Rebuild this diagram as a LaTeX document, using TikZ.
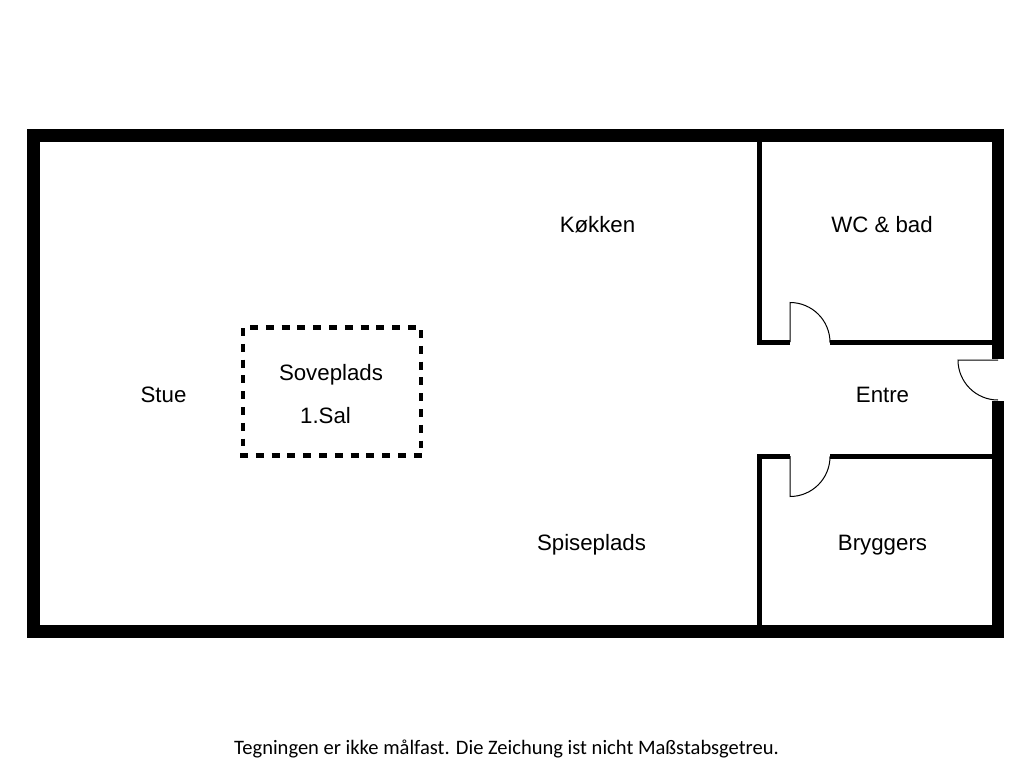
\documentclass[tikz,border=0pt]{standalone}
\usepackage{fontspec}
\setmainfont{Liberation Sans}
\newfontfamily\notefont{Carlito}
\tikzset{
  wall/.style={fill=black,draw=none},
  doorline/.style={draw=black,line width=0.75pt},
  room/.style={inner sep=0pt,anchor=center,font=\fontsize{16.7pt}{20pt}\selectfont},
  upper/.style={draw=black,line width=3.7pt,dash pattern=on 6pt off 5.85pt}
}
\begin{document}
\begin{tikzpicture}[x=0.75pt,y=-0.75pt]
\useasboundingbox (0,0) rectangle (1024,768);
% outer walls
\fill[wall] (27,129) rectangle (1004,142);
\fill[wall] (27,625) rectangle (1004,638);
\fill[wall] (27,129) rectangle (40,638);
\fill[wall] (992,129) rectangle (1004,359);
\fill[wall] (992,401) rectangle (1004,638);
% inner walls
\fill[wall] (757,142) rectangle (761.5,345);
\fill[wall] (757,340) rectangle (790,345);
\fill[wall] (830,340) rectangle (992,345);
\fill[wall] (757,454) rectangle (761.5,625);
\fill[wall] (757,454) rectangle (790,458.5);
\fill[wall] (830,454) rectangle (992,458.5);
% doors
\draw[doorline] (790,342) -- (790,302.5) arc[start angle=-90,end angle=0,radius=40];
\draw[doorline] (790,456) -- (790,496.5) arc[start angle=90,end angle=0,radius=40];
\draw[doorline] (998,360) -- (958,360) arc[start angle=180,end angle=90,radius=40];
% upper floor outline
\draw[upper] (250,327.5) -- (416,327.5);
\draw[upper] (421,330) -- (421,448);
\draw[upper] (240,455.7) -- (424,455.7);
\draw[upper] (243,328) -- (243,446);
% labels
\node[room] (stue) at (163.5,395) {Stue};
\node[room] (sove) at (331,375) {Soveplads};
\node[room] (sal) at (325.5,415.5) {1.Sal};
\node[room] (kokken) at (597.5,225) {Køkken};
\node[room] (wc) at (882,225) {WC \& bad};
\node[room] (entre) at (882.5,395) {Entre};
\node[room] (spise) at (591.5,544.5) {Spiseplads};
\node[room] (bryg) at (882.5,545) {Bryggers};
\node[inner sep=0pt,font=\notefont\fontsize{15.4pt}{18pt}\selectfont] (note) at (506.5,749) {Tegningen er ikke målfast. Die Zeichung ist nicht Maßstabsgetreu.};
\end{tikzpicture}
\end{document}
